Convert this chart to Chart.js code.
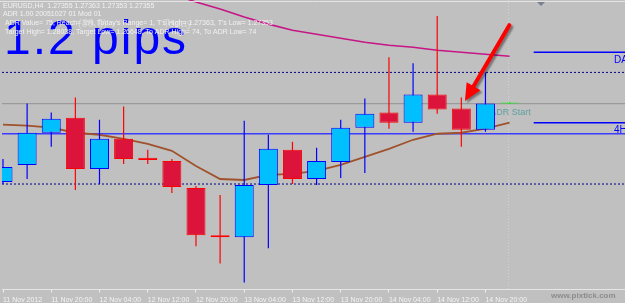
<!DOCTYPE html>
<html>
<head>
<meta charset="utf-8">
<script src="https://cdn.jsdelivr.net/npm/chart.js@4.4.1/dist/chart.umd.min.js"></script>
<style>
    html, body { margin: 0; padding: 0; background: #c0c0c0; }
    canvas { display: block; }
</style>
</head>
<body>
<canvas id="graficoCandele" width="625" height="303"></canvas>
<script>
// EURUSD H4, una candela ogni 4 ore (indice 0 = 11 Nov 2012)
const etichetteX = ["11 Nov 2012", "11 Nov 20:00", "12 Nov 04:00", "12 Nov 12:00", "12 Nov 20:00", "13 Nov 04:00",
    "13 Nov 12:00", "13 Nov 20:00", "14 Nov 04:00", "14 Nov 12:00", "14 Nov 20:00"];

const aperture = [1.26965, 1.27050, 1.27210, 1.27285, 1.27030, 1.27180, 1.27085, 1.27070, 1.26935, 1.26700, 1.26690,
    1.26950, 1.27125, 1.26980, 1.27065, 1.27235, 1.27310, 1.27260, 1.27400, 1.27330, 1.27225, 1.27355];
const massimi = [1.27080, 1.27355, 1.27310, 1.27385, 1.27275, 1.27340, 1.27125, 1.27080, 1.26945, 1.26900, 1.27270,
    1.27200, 1.27165, 1.27135, 1.27275, 1.27380, 1.27585, 1.27555, 1.27790, 1.27385, 1.27510, 1.27363];
const minimi = [1.26955, 1.26980, 1.27140, 1.26925, 1.26955, 1.27055, 1.27055, 1.26910, 1.26645, 1.26560, 1.26465,
    1.26635, 1.26955, 1.26950, 1.26985, 1.27010, 1.27230, 1.27215, 1.27305, 1.27140, 1.27215, 1.27353];
const chiusure = [1.27040, 1.27210, 1.27280, 1.27030, 1.27180, 1.27080, 1.27075, 1.26940, 1.26700, 1.26690, 1.26950,
    1.27130, 1.26980, 1.27070, 1.27235, 1.27305, 1.27260, 1.27400, 1.27325, 1.27225, 1.27355, 1.27355];

// medie mobili
const mediaMarrone = [1.27250, 1.27245, 1.27235, 1.27210, 1.27200, 1.27180, 1.27155, 1.27120, 1.27045, 1.26980, 1.26975,
    1.27000, 1.27005, 1.27020, 1.27050, 1.27090, 1.27130, 1.27175, 1.27205, 1.27210, 1.27230, 1.27260];
const mediaMagenta = [null, null, null, null, null, null, null, 1.27900, 1.27860, 1.27825, 1.27785,
    1.27750, 1.27720, 1.27700, 1.27680, 1.27660, 1.27645, 1.27635, 1.27620, 1.27610, 1.27600, 1.27590];

// livelli orizzontali
const livelloBid = 1.27355;
const livelloBlu = 1.27205;
const livelliTratteggiati = [1.27510, 1.26955];
const livelloDaily = 1.27610;
const livello4H = 1.27260;

const xMin = -0.0413, xMax = 25.785;

const colore = i => chiusure[i] > aperture[i] ? '#00bfff' : (chiusure[i] < aperture[i] ? '#dc143c' : '#00ff00');
const coloreBordo = i => chiusure[i] > aperture[i] ? '#0000ff' : (chiusure[i] < aperture[i] ? '#ff0000' : '#00ff00');

function linea(da, a, valore, col, spessore, tratteggio) {
    return {
        type: 'line',
        data: [{ x: da, y: valore }, { x: a, y: valore }],
        borderColor: col,
        borderWidth: spessore,
        borderDash: tratteggio || [],
        pointRadius: 0,
        order: 5
    };
}

function freccia(ctx, x1, y1, x2, y2) {
    const ang = Math.atan2(y2 - y1, x2 - x1);
    const lung = 17, larg = 8;
    const bx = x2 - lung * Math.cos(ang), by = y2 - lung * Math.sin(ang);
    ctx.beginPath();
    ctx.moveTo(x1, y1);
    ctx.lineTo(bx, by);
    ctx.stroke();
    ctx.beginPath();
    ctx.moveTo(x2, y2);
    ctx.lineTo(bx + larg * Math.sin(ang), by - larg * Math.cos(ang));
    ctx.lineTo(bx - larg * Math.sin(ang), by + larg * Math.cos(ang));
    ctx.closePath();
    ctx.fill();
}

const decorazioni = {
    id: 'decorazioni',
    beforeDraw(chart) {
        const { ctx, width, height } = chart;
        ctx.save();
        ctx.fillStyle = '#c0c0c0';
        ctx.fillRect(0, 0, width, height);
        ctx.restore();
    },
    beforeDatasetsDraw(chart) {
        const { ctx, chartArea, scales: { x, y } } = chart;
        ctx.save();
        // separatore della barra corrente
        const xs = Math.round(x.getPixelForValue(20.95)) + 0.5;
        ctx.strokeStyle = '#d2d2d2';
        ctx.setLineDash([1, 2]);
        ctx.beginPath();
        ctx.moveTo(xs, chartArea.top);
        ctx.lineTo(xs, chartArea.bottom);
        ctx.stroke();
        ctx.setLineDash([]);
        ctx.fillStyle = '#5f9ea0';
        ctx.font = '9px "Liberation Sans"';
        ctx.textBaseline = 'middle';
        ctx.fillText('ADR Start', x.getPixelForValue(20.2), y.getPixelForValue(livelloBid) + 9);
        ctx.restore();
    },
    afterDraw(chart) {
        const { ctx, width, scales: { x, y } } = chart;
        ctx.save();
        // bordo superiore
        ctx.strokeStyle = '#e4e4e4';
        ctx.beginPath();
        ctx.moveTo(0, 1.5);
        ctx.lineTo(width, 1.5);
        ctx.stroke();
        ctx.fillStyle = '#7a8090';
        ctx.beginPath();
        ctx.moveTo(537, 2);
        ctx.lineTo(545, 2);
        ctx.lineTo(541, 6);
        ctx.closePath();
        ctx.fill();

        // testo grande
        ctx.fillStyle = '#0000ff';
        ctx.font = '48px "Liberation Sans"';
        ctx.letterSpacing = '2px';
        ctx.textBaseline = 'alphabetic';
        ctx.fillText('1.2 pips', 4, 54);
        ctx.letterSpacing = '0px';

        // testi in alto
        ctx.fillStyle = 'rgba(232,232,232,0.6)';
        ctx.font = '11px "Liberation Sans"';
        ctx.fillText('(80.0)', 78, 27);
        ctx.fillText('Today', 163, 27);
        ctx.fillStyle = '#f2f2f2';
        ctx.font = '7px "Liberation Sans"';
        ctx.textBaseline = 'middle';
        ctx.fillText('EURUSD,H4  1.27355 1.27363 1.27353 1.27355', 3, 6);
        ctx.fillText('ADR 1.00 20051027 01 Mod 01', 3, 14.5);
        ctx.fillText("ADR Value= 75, Reach= 1%, Today's Range= 1, T's High= 1.27363, T's Low= 1.27353", 5, 23);
        ctx.fillText('Target High= 1.28038, Target Low= 1.26648, To ADR High= 74, To ADR Low= 74', 5, 32);

        // etichette livelli a destra
        ctx.fillStyle = '#0000ff';
        ctx.font = '10px "Liberation Sans"';
        ctx.textBaseline = 'top';
        ctx.fillText('DAILY', 614, y.getPixelForValue(livelloDaily) + 3);
        ctx.fillText('4H', 614, y.getPixelForValue(livello4H) + 3);

        // freccia rossa
        ctx.strokeStyle = '#ff0000';
        ctx.fillStyle = '#ff0000';
        ctx.lineWidth = 4;
        ctx.lineCap = 'round';
        ctx.shadowColor = 'rgba(0,0,0,0.4)';
        ctx.shadowOffsetX = 2;
        ctx.shadowOffsetY = 2;
        ctx.shadowBlur = 2;
        freccia(ctx, x.getPixelForValue(20.99), y.getPixelForValue(1.27745),
            x.getPixelForValue(19.15), y.getPixelForValue(1.27368));
        ctx.shadowColor = 'transparent';

        // firma
        ctx.fillStyle = '#8c8c8c';
        ctx.font = 'bold 8px "Liberation Sans"';
        ctx.textBaseline = 'middle';
        ctx.fillText('www.pixtick.com', 551, 296);
        ctx.restore();
    }
};

const indici = aperture.map((_, i) => i);

const ctx = document.getElementById('graficoCandele').getContext('2d');
const graficoCandele = new Chart(ctx, {
    type: 'bar',
    data: {
        datasets: [
            {
                // corpi
                data: indici.map(i => ({ x: i, y: [aperture[i], chiusure[i]] })),
                backgroundColor: indici.map(colore),
                borderColor: indici.map(coloreBordo),
                borderWidth: 1,
                borderSkipped: false,
                minBarLength: 1,
                maxBarThickness: 19,
                barPercentage: 1,
                grouped: false,
                order: 0
            },
            {
                // ombre
                data: indici.map(i => ({ x: i, y: [minimi[i], massimi[i]] })),
                backgroundColor: indici.map(coloreBordo),
                borderWidth: 0,
                maxBarThickness: 1.2,
                barPercentage: 1,
                grouped: false,
                order: 1
            },
            {
                type: 'line',
                data: indici.map(i => ({ x: i, y: mediaMarrone[i] })),
                borderColor: '#a0522d',
                borderWidth: 1.8,
                pointRadius: 0,
                tension: 0,
                order: 2
            },
            {
                type: 'line',
                data: indici.map(i => ({ x: i, y: mediaMagenta[i] })),
                borderColor: '#c71585',
                borderWidth: 1.6,
                pointRadius: 0,
                order: 2
            },
            linea(xMin, xMax, livelloBid, '#9a9a9a', 1.2),
            linea(xMin, xMax, livelloBlu, '#3c3cff', 1.3),
            linea(xMin, xMax, livelliTratteggiati[0], '#000080', 1, [2, 2]),
            linea(xMin, xMax, livelliTratteggiati[1], '#000080', 1, [2, 2]),
            linea(22, xMax, livelloDaily, '#0000ff', 1.6),
            linea(22, xMax, livello4H, '#0000ff', 1.6)
        ]
    },
    options: {
        responsive: false,
        animation: false,
        devicePixelRatio: 1,
        layout: { padding: { top: 0, left: 0, right: 0, bottom: -4 } },
        plugins: {
            legend: { display: false },
            tooltip: { enabled: false }
        },
        scales: {
            x: {
                type: 'linear',
                min: xMin,
                max: xMax,
                offset: false,
                afterBuildTicks: scala => {
                    scala.ticks = etichetteX.map((_, k) => ({ value: k * 2 }));
                },
                ticks: {
                    callback: v => etichetteX[v / 2] ?? '',
                    align: 'start',
                    autoSkip: false,
                    maxRotation: 0,
                    color: '#f4f4f4',
                    font: { family: 'Liberation Sans', size: 7 },
                    padding: 3
                },
                grid: { offset: false, drawOnChartArea: false, drawTicks: true, tickLength: 3, color: '#eeeeee' },
                border: { display: true, color: '#e6e6e6', width: 1 }
            },
            y: {
                display: false,
                beginAtZero: false,
                min: 1.26430,
                max: 1.27870
            }
        }
    },
    plugins: [decorazioni]
});
</script>
</body>
</html>
